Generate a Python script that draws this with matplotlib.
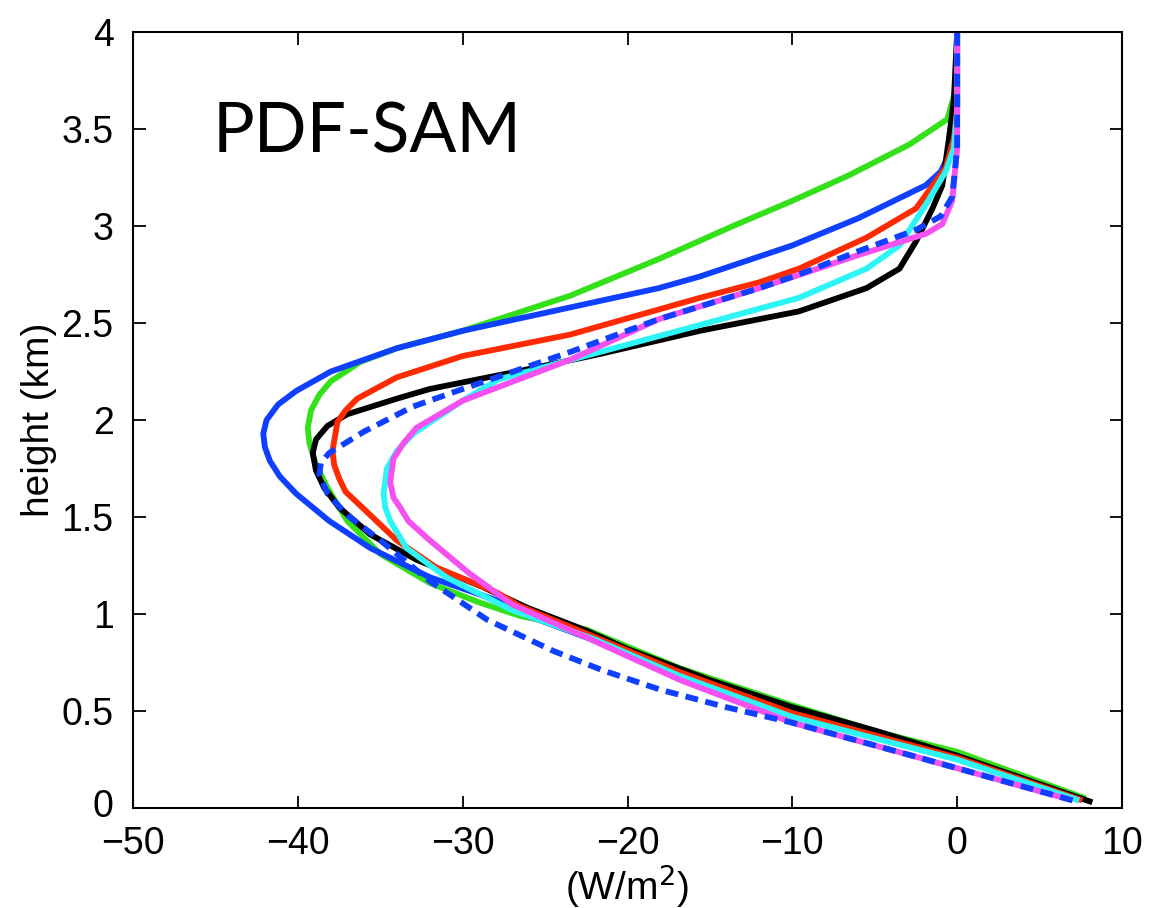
import matplotlib
matplotlib.use("Agg")
import matplotlib.pyplot as plt
import matplotlib.transforms as mtransforms

# Radiative flux divergence profiles (W/m^2) versus height (km)
black_x = [8.2, 0, -5, -10, -15, -20, -22.5, -26, -28.8, -32.8, -35.6, -37.5, -38.4, -38.9, -39.1,
           -38.9, -38.2, -37, -34, -32, -26.7, -21.7, -15.6, -9.6, -5.5, -3.5, -2.5, -1.5, -0.9, -0.5, -0.2, 0]
black_y = [0.03, 0.27, 0.40, 0.52, 0.66, 0.82, 0.915, 1.03, 1.14, 1.28, 1.41, 1.55, 1.65, 1.74, 1.83,
           1.90, 1.97, 2.03, 2.11, 2.16, 2.25, 2.34, 2.46, 2.56, 2.68, 2.78, 2.92, 3.09, 3.21, 3.45, 3.65, 4.0]

green_x = [7.8, 0, -4.7, -10, -16.8, -22.5, -26.5, -29, -32, -35, -37, -38.2, -38.9, -39.3, -39.4,
           -39.2, -38.7, -38, -36.2, -34, -30, -23.5, -18.1, -13.6, -10, -6.6, -2.9, -0.6, -0.1, 0]
green_y = [0.05, 0.29, 0.39, 0.53, 0.72, 0.92, 0.99, 1.06, 1.16, 1.31, 1.48, 1.65, 1.77, 1.88, 1.96,
           2.05, 2.13, 2.20, 2.30, 2.37, 2.46, 2.64, 2.83, 3.00, 3.13, 3.26, 3.42, 3.55, 3.70, 4.0]

blue_x = [7.4, 0, -10, -16.8, -22.5, -26, -27.9, -32, -35.6, -38.1, -40.1, -41.1, -41.7, -42.0, -42.1,
          -41.9, -41.2, -40.1, -38, -34, -30, -23.5, -18.1, -15.6, -10, -6, -1.9, -1.0, -0.3, 0, 0]
blue_y = [0.04, 0.27, 0.50, 0.70, 0.88, 0.99, 1.07, 1.19, 1.34, 1.48, 1.62, 1.71, 1.79, 1.86, 1.93,
          2.00, 2.08, 2.15, 2.25, 2.37, 2.46, 2.58, 2.68, 2.74, 2.90, 3.04, 3.21, 3.28, 3.40, 3.60, 4.0]

red_x = [7.6, 0, -10, -16.8, -22.5, -26.5, -27.9, -31.6, -34, -36.1, -37.1, -37.5, -37.8, -37.9, -37.6,
         -37.1, -36.4, -34, -30, -23.5, -15.6, -12, -9.6, -5.5, -2.5, -0.7, -0.2, 0, 0]
red_y = [0.04, 0.26, 0.49, 0.70, 0.90, 1.04, 1.11, 1.24, 1.38, 1.55, 1.63, 1.70, 1.77, 1.84, 1.99,
         2.05, 2.11, 2.22, 2.33, 2.44, 2.63, 2.71, 2.78, 2.94, 3.09, 3.30, 3.45, 3.60, 4.0]

cyan_x = [7.4, 0, -10, -16.8, -22, -27, -31, -33.4, -34.4, -34.7, -34.8, -34.6, -34.0, -33, -30, -27.8,
          -21.7, -15.6, -9.6, -5.5, -3.5, -1.9, -0.7, -0.2, 0, 0]
cyan_y = [0.04, 0.25, 0.47, 0.68, 0.87, 1.02, 1.19, 1.34, 1.48, 1.55, 1.62, 1.75, 1.84, 1.93, 2.10, 2.21,
          2.35, 2.49, 2.63, 2.78, 2.90, 3.11, 3.28, 3.40, 3.60, 4.0]

magenta_x = [7.0, -2.3, -10, -16.8, -22.5, -27, -29.6, -32, -33.3, -33.8, -34.2, -34.4, -34.2, -33.6,
             -32.8, -30, -23.5, -18.1, -12, -6, -1.9, -0.9, -0.3, 0, 0]
magenta_y = [0.04, 0.26, 0.44, 0.66, 0.88, 1.05, 1.21, 1.38, 1.48, 1.55, 1.60, 1.68, 1.80, 1.88,
             1.96, 2.10, 2.31, 2.52, 2.68, 2.85, 2.96, 3.01, 3.13, 3.40, 4.0]

dashed_x = [7.0, -2.3, -10, -14, -18, -21.5, -24.5, -28.5, -32, -35, -37, -38.2, -38.7, -38.6, -38.1,
            -36, -33, -30, -23.5, -18.1, -12, -9.6, -6, -2.5, -1.0, -0.3, 0, 0]
dashed_y = [0.04, 0.26, 0.44, 0.52, 0.61, 0.71, 0.81, 0.97, 1.17, 1.38, 1.51, 1.62, 1.72, 1.78, 1.83,
            1.94, 2.07, 2.16, 2.35, 2.52, 2.68, 2.75, 2.87, 2.98, 3.05, 3.15, 3.40, 4.0]

x_ticks = [-50, -40, -30, -20, -10, 0, 10]
y_ticks = [0, 0.5, 1, 1.5, 2, 2.5, 3, 3.5, 4]

plt.rcParams['font.family'] = ['Liberation Sans', 'DejaVu Sans']

fig = plt.figure(figsize=(11.64, 9.08), dpi=100)
ax = fig.add_axes([0.1143, 0.110, 0.8496, 0.8548])

lw = 4.2
style = dict(lw=lw, solid_capstyle='butt', solid_joinstyle='round')
ax.plot(green_x, green_y, color='#33e01a', **style)
ax.plot(blue_x, blue_y, color='#1040ff', **style)
ax.plot(black_x, black_y, color='black', **style)
ax.plot(red_x, red_y, color='#ff2a00', **style)
ax.plot(cyan_x, cyan_y, color='#2ef5f5', **style)
ax.plot(magenta_x, magenta_y, color='#f550f0', **style)
ax.plot(dashed_x, dashed_y, color='#1040ff', lw=lw, linestyle=(0, (2.2, 1.3)),
        dash_capstyle='butt', dash_joinstyle='round')

ax.set_xlim(-50, 10)
ax.set_ylim(0, 4)
ax.set_xticks(x_ticks)
ax.set_yticks(y_ticks)
ax.set_xticklabels(['\u221250', '\u221240', '\u221230', '\u221220', '\u221210', '0', '10'])
ax.set_yticklabels(['0', '0.5', '1', '1.5', '2', '2.5', '3', '3.5', '4'])
ax.tick_params(direction='in', length=9, width=1.3, top=True, right=True, labelsize=27)
ax.tick_params(axis='x', pad=13)
ax.tick_params(axis='y', pad=14)
for s in ax.spines.values():
    s.set_linewidth(1.5)

# lift the bottom y tick label slightly so it clears the x tick labels
lift = mtransforms.ScaledTranslation(0, 4 / 72, fig.dpi_scale_trans)
bottom_label = ax.get_yticklabels()[0]
bottom_label.set_transform(bottom_label.get_transform() + lift)

ax.set_xlabel('(W/m$^2$)', fontsize=28, labelpad=0)
ax.set_ylabel('height (km)', fontsize=28, labelpad=3)

ax.text(-45.2, 3.38, 'PDF-SAM', fontsize=50, family=['Lato', 'DejaVu Sans'],
        va='baseline', ha='left')

fig.savefig('out.png', dpi=100)
